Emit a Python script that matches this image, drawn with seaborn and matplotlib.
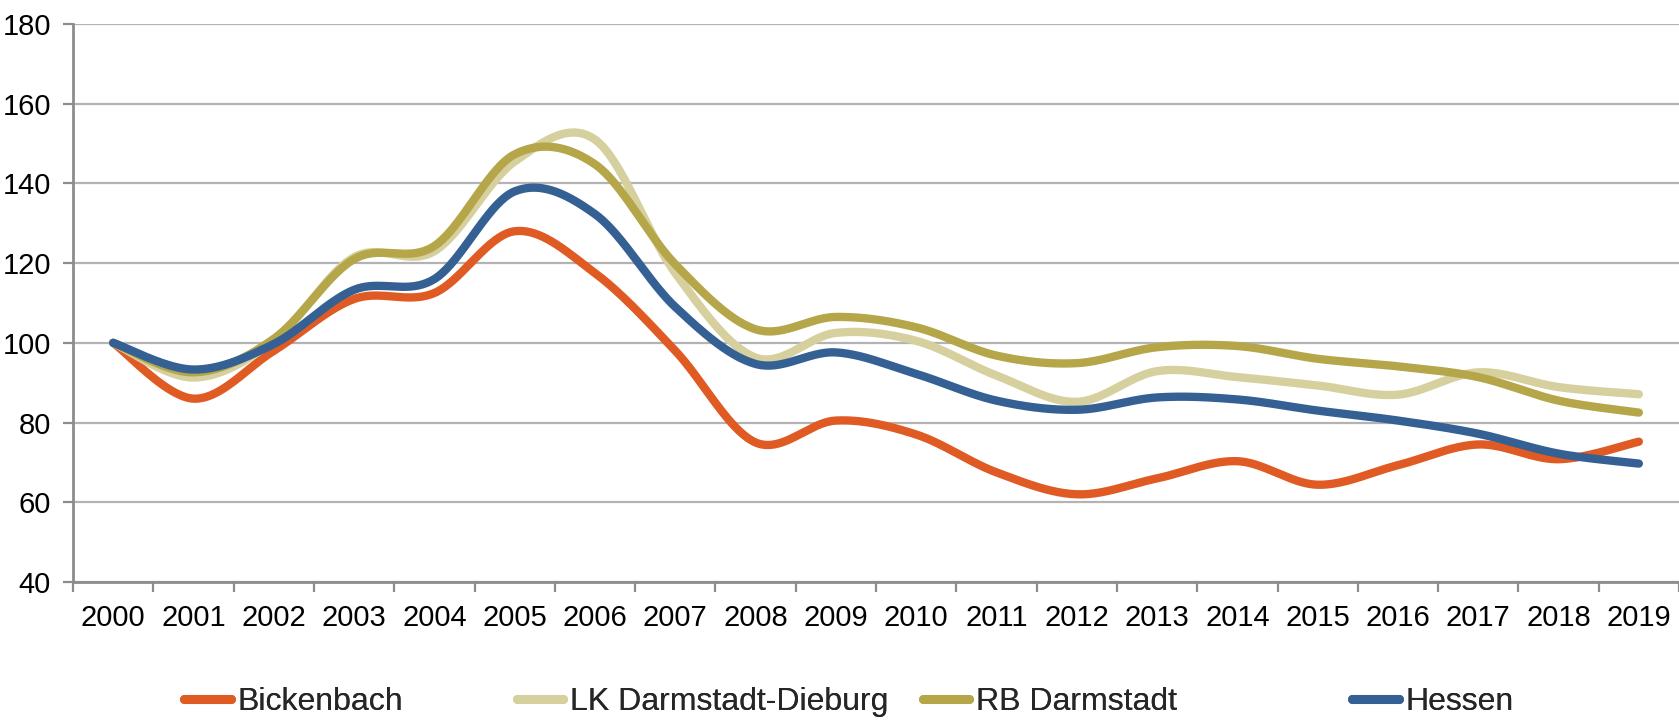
import numpy as np
import pandas as pd
import matplotlib
matplotlib.use("Agg")
import matplotlib.pyplot as plt
from matplotlib.lines import Line2D
from matplotlib.ticker import FixedLocator, NullFormatter, FixedFormatter
import seaborn as sns

# Index values (2000 = 100)
years = list(range(2000, 2020))
bickenbach = [100, 86, 98, 111, 112.5, 128, 117.5, 98, 75, 80.5,
              77, 67.5, 62, 66, 70.3, 64.4, 69.3, 74.5, 70.8, 75.2]
lk_darmstadt_dieburg = [100, 91.3, 100.5, 121.5, 123, 145.5, 151, 117.5, 96.3, 102.5,
                        100.5, 91.8, 85.2, 92.9, 91.4, 89.3, 87, 92.6, 88.9, 87.1]
rb_darmstadt = [100, 92.6, 101, 121, 124.3, 147.3, 144.8, 119.7, 103.4, 106.5,
                103.9, 96.8, 94.9, 98.9, 99.2, 96, 94.1, 91.4, 85.5, 82.5]
hessen = [100, 93.3, 99.7, 113.3, 116, 138, 132.3, 109, 94.7, 97.6,
          92.2, 85.5, 83.2, 86.3, 85.8, 83, 80.5, 77.2, 72.2, 69.7]

series_names = ["Bickenbach", "LK Darmstadt-Dieburg", "RB Darmstadt", "Hessen"]
series_values = [bickenbach, lk_darmstadt_dieburg, rb_darmstadt, hessen]
colors = ["#E05A24", "#D6D09E", "#B5A64A", "#346094"]
y_ticks = [40, 60, 80, 100, 120, 140, 160, 180]


def smooth_curve(xs, ys, n=40):
    """Cubic Bezier smoothing through every point (Catmull-Rom style)."""
    pts = np.column_stack([xs, ys]).astype(float)
    m = len(pts)
    out = []
    for i in range(m - 1):
        p0 = pts[max(i - 1, 0)]
        p1 = pts[i]
        p2 = pts[i + 1]
        p3 = pts[min(i + 2, m - 1)]
        c1 = p1 + (p2 - p0) / 6.0
        c2 = p2 - (p3 - p1) / 6.0
        t = np.linspace(0, 1, n, endpoint=(i == m - 2))[:, None]
        seg = ((1 - t) ** 3) * p1 + 3 * ((1 - t) ** 2) * t * c1 \
            + 3 * (1 - t) * t ** 2 * c2 + t ** 3 * p2
        out.append(seg)
    out = np.vstack(out)
    return out[:, 0], out[:, 1]


sns.set_theme(style="white")
plt.rcParams["font.family"] = ["Liberation Sans", "DejaVu Sans"]

fig = plt.figure(figsize=(16.79, 7.2), dpi=100)
ax = fig.add_axes([0.0435, 0.1917, 0.9565, 0.775])

positions = np.arange(len(years))
frames = []
for name, vals in zip(series_names, series_values):
    sx, sy = smooth_curve(positions, vals)
    frames.append(pd.DataFrame({"x": sx, "y": sy, "series": name}))
df = pd.concat(frames, ignore_index=True)

for name, col in zip(series_names, colors):
    sub = df[df["series"] == name]
    sns.lineplot(data=sub, x="x", y="y", sort=False, estimator=None, color=col,
                 linewidth=6, solid_capstyle="round", ax=ax, legend=False)

ax.set_xlim(-0.5, len(years) - 0.5)
ax.set_ylim(40, 180)
ax.set_xlabel("")
ax.set_ylabel("")

# Y axis
ax.set_yticks(y_ticks)
ax.set_yticklabels([str(v) for v in y_ticks])
ax.yaxis.grid(True, color="#B3B3B3", linewidth=1.6)
ax.xaxis.grid(False)
ax.tick_params(axis="y", which="major", length=7, width=1.6, color="#8C8C8C",
               labelsize=21, pad=9, left=True, labelcolor="black")

# X axis: ticks between categories, labels at category centres
ax.xaxis.set_major_locator(FixedLocator(np.arange(-0.5, len(years), 1.0)))
ax.xaxis.set_major_formatter(NullFormatter())
ax.xaxis.set_minor_locator(FixedLocator(positions))
ax.xaxis.set_minor_formatter(FixedFormatter([str(y) for y in years]))
ax.tick_params(axis="x", which="major", length=7, width=1.6, color="#8C8C8C",
               bottom=True, direction="out")
ax.tick_params(axis="x", which="minor", length=0, labelsize=21, pad=16,
               labelcolor="black")

for side in ["top", "right"]:
    ax.spines[side].set_visible(False)
for side in ["left", "bottom"]:
    ax.spines[side].set_color("#8C8C8C")
    ax.spines[side].set_linewidth(2)

# Legend row: one entry per series, laid out along the bottom
legend_x = [0.1097, 0.308, 0.5497, 0.8055]
for name, col, lx in zip(series_names, colors, legend_x):
    h = Line2D([0], [0], color=col, linewidth=6.5, solid_capstyle="round")
    leg = fig.legend([h], [name], loc="center left", bbox_to_anchor=(lx, 0.025),
                     frameon=False, fontsize=23, handlelength=1.45,
                     handletextpad=0.2, borderpad=0, borderaxespad=0)
    fig.add_artist(leg)

fig.savefig("out.png", dpi=100)
